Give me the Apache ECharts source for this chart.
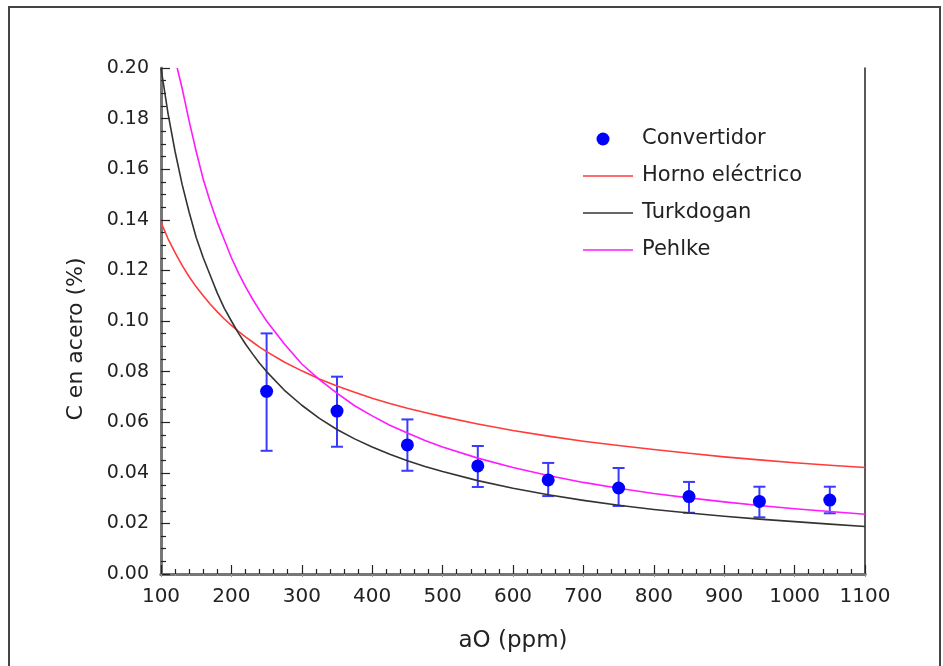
<!DOCTYPE html>
<html>
<head>
<meta charset="utf-8">
<script src="https://cdn.jsdelivr.net/npm/echarts@6/dist/echarts.min.js"></script>
<style>
html,body{margin:0;padding:0;background:#fff;}
#chart{width:943px;height:666px;}
</style>
</head>
<body>
<div id="chart"></div>
<script>
// ---- Data ----
const convX    = [250, 350, 450, 550, 650, 750, 850, 950, 1050];
const convY    = [0.0722, 0.0644, 0.0510, 0.0427, 0.0372, 0.0340, 0.0306, 0.0287, 0.0292];
const convLow  = [0.0487, 0.0503, 0.0408, 0.0344, 0.0308, 0.0269, 0.0242, 0.0224, 0.0240];
const convHigh = [0.0951, 0.0780, 0.0611, 0.0506, 0.0439, 0.0419, 0.0364, 0.0345, 0.0345];

const hornoX = [100, 110, 120, 130, 140, 150, 160, 170, 180, 190, 200, 210, 220, 230, 240, 250, 275, 300, 325, 350, 375, 400, 425, 450, 475, 500, 550, 600, 650, 700, 750, 800, 850, 900, 950, 1000, 1050, 1100];
const hornoY = [0.139, 0.1325, 0.127, 0.122, 0.1175, 0.1135, 0.110, 0.1066, 0.1036, 0.1008, 0.0983, 0.0959, 0.0937, 0.0917, 0.0897, 0.0879, 0.0838, 0.0803, 0.0771, 0.0743, 0.0718, 0.0695, 0.0674, 0.0655, 0.0638, 0.0622, 0.0593, 0.0567, 0.0545, 0.0525, 0.0508, 0.0492, 0.0477, 0.0463, 0.0451, 0.0440, 0.0430, 0.0421];

const turkX = [100, 110, 120, 130, 140, 150, 160, 170, 180, 190, 200, 210, 220, 230, 240, 250, 275, 300, 325, 350, 375, 400, 425, 450, 475, 500, 550, 600, 650, 700, 750, 800, 850, 900, 950, 1000, 1050, 1100];
const turkY = [0.200, 0.182, 0.167, 0.154, 0.143, 0.133, 0.125, 0.118, 0.111, 0.105, 0.100, 0.0952, 0.0909, 0.0870, 0.0833, 0.080, 0.0727, 0.0667, 0.0615, 0.0571, 0.0534, 0.0502, 0.0473, 0.0448, 0.0425, 0.0405, 0.0369, 0.0339, 0.0313, 0.0291, 0.0272, 0.0255, 0.0241, 0.0228, 0.0217, 0.0207, 0.0197, 0.0188];

const pehlX = [123, 130, 140, 150, 160, 170, 180, 190, 200, 210, 220, 230, 240, 250, 275, 300, 325, 350, 375, 400, 425, 450, 475, 500, 550, 600, 650, 700, 750, 800, 850, 900, 950, 1000, 1050, 1100];
const pehlY = [0.200, 0.192, 0.179, 0.167, 0.156, 0.147, 0.139, 0.132, 0.125, 0.119, 0.1136, 0.1087, 0.1042, 0.100, 0.091, 0.083, 0.0768, 0.0715, 0.0665, 0.0625, 0.0588, 0.0557, 0.0528, 0.0502, 0.0458, 0.0421, 0.0389, 0.0362, 0.0339, 0.0318, 0.0301, 0.0285, 0.0271, 0.0258, 0.0247, 0.0236];

const xTicks = {min: 100, max: 1100, interval: 100};
const yTicks = {min: 0, max: 0.2, interval: 0.02};

const zip = (a, b) => a.map((v, i) => [v, b[i]]);
const errData = convX.map((x, i) => [x, convLow[i], convHigh[i]]);

const FONT = "'DejaVu Sans', Arial, sans-serif";
const LINE_ICON = 'path://M0,0 L50,0 L50,1.6 L0,1.6 Z';
const DOT_ICON = 'path://M13.5,7 A6.5,6.5 0 1,1 26.5,7 A6.5,6.5 0 1,1 13.5,7 Z M0,0 L0,0 M50,14 L50,14';
const chart = echarts.init(document.getElementById('chart'), null, {renderer: 'canvas'});

chart.setOption({
  animation: false,
  backgroundColor: '#fff',
  graphic: [{
    type: 'rect', silent: true, z: -1,
    shape: {x: 9, y: 7, width: 931, height: 720},
    style: {fill: 'none', stroke: '#444', lineWidth: 2}
  }],
  grid: {left: 161, right: 78, top: 68, bottom: 92, containLabel: false},
  legend: {
    orient: 'vertical', left: 578, top: 123,
    itemWidth: 50, itemHeight: 14, itemGap: 15,
    data: [
      {name: 'Convertidor', icon: DOT_ICON},
      {name: 'Horno eléctrico', icon: LINE_ICON},
      {name: 'Turkdogan', icon: LINE_ICON},
      {name: 'Pehlke', icon: LINE_ICON}
    ],
    textStyle: {fontFamily: FONT, fontSize: 21, lineHeight: 22, color: '#222', padding: [0, 0, 0, 4]}
  },
  xAxis: [{
    type: 'value', min: xTicks.min, max: xTicks.max, interval: xTicks.interval,
    name: 'aO (ppm)', nameLocation: 'middle', nameGap: 56,
    nameTextStyle: {fontFamily: FONT, fontSize: 23, color: '#222'},
    axisLine: {show: true, onZero: false, lineStyle: {color: '#777', width: 3}},
    axisTick: {show: true, inside: true, length: 9, lineStyle: {color: '#222', width: 1.2}},
    minorTick: {show: true, splitNumber: 5, length: 5, lineStyle: {color: '#222', width: 1.2}},
    axisLabel: {fontFamily: FONT, fontSize: 20, color: '#222', margin: 13,
      formatter: v => String(v)},
    splitLine: {show: false}
  }, {
    type: 'value', position: 'top', min: xTicks.min, max: xTicks.max, interval: xTicks.interval,
    axisLine: {show: true, lineStyle: {color: '#777', width: 3}},
    axisTick: {show: true, inside: true, length: 3, lineStyle: {color: '#999'}},
    minorTick: {show: true, splitNumber: 5, length: 2, lineStyle: {color: '#999'}},
    axisLabel: {show: false}, splitLine: {show: false}
  }],
  yAxis: [{
    type: 'value', min: yTicks.min, max: yTicks.max, interval: yTicks.interval,
    name: 'C en acero (%)', nameLocation: 'middle', nameGap: 74,
    nameTextStyle: {fontFamily: FONT, fontSize: 22, color: '#222', padding: [0, 36, 0, 0]},
    axisLine: {show: true, onZero: false, lineStyle: {color: '#777', width: 3}},
    axisTick: {show: true, inside: true, length: 9, lineStyle: {color: '#222', width: 1.2}},
    minorTick: {show: true, splitNumber: 4, length: 5, lineStyle: {color: '#222', width: 1.2}},
    axisLabel: {fontFamily: FONT, fontSize: 19, color: '#222', margin: 12,
      formatter: v => v.toFixed(2)},
    splitLine: {show: false}
  }, {
    type: 'value', position: 'right', min: yTicks.min, max: yTicks.max, interval: yTicks.interval,
    axisLine: {show: true, lineStyle: {color: '#222', width: 1.5}},
    axisTick: {show: false}, axisLabel: {show: false}, splitLine: {show: false}
  }],
  series: [
    {
      name: 'errbars', type: 'custom', z: 3,
      data: errData,
      encode: {x: 0, y: [1, 2]},
      renderItem: function (params, api) {
        const x = api.value(0);
        const lo = api.coord([x, api.value(1)]);
        const hi = api.coord([x, api.value(2)]);
        const w = 6;
        const st = {stroke: '#3a3aff', lineWidth: 2};
        return {
          type: 'group',
          children: [
            {type: 'line', shape: {x1: lo[0], y1: lo[1], x2: hi[0], y2: hi[1]}, style: st},
            {type: 'line', shape: {x1: hi[0] - w, y1: hi[1], x2: hi[0] + w, y2: hi[1]}, style: st},
            {type: 'line', shape: {x1: lo[0] - w, y1: lo[1], x2: lo[0] + w, y2: lo[1]}, style: st}
          ]
        };
      }
    },
    {
      name: 'Horno eléctrico', type: 'line', data: zip(hornoX, hornoY),
      symbol: 'none', smooth: false, clip: true,
      lineStyle: {color: '#ff3b3b', width: 1.6, join: 'round'}, itemStyle: {color: '#ff3b3b'}
    },
    {
      name: 'Turkdogan', type: 'line', data: zip(turkX, turkY),
      symbol: 'none', smooth: false, clip: true,
      lineStyle: {color: '#333', width: 1.6, join: 'round'}, itemStyle: {color: '#333'}
    },
    {
      name: 'Pehlke', type: 'line', data: zip(pehlX, pehlY),
      symbol: 'none', smooth: false, clip: true,
      lineStyle: {color: '#ff1aff', width: 1.6, join: 'round'}, itemStyle: {color: '#ff1aff'}
    },
    {
      name: 'Convertidor', type: 'scatter', data: zip(convX, convY), z: 5,
      symbol: 'circle', symbolSize: 13,
      itemStyle: {color: '#0000ff', opacity: 1}
    }
  ]
});
</script>
</body>
</html>
